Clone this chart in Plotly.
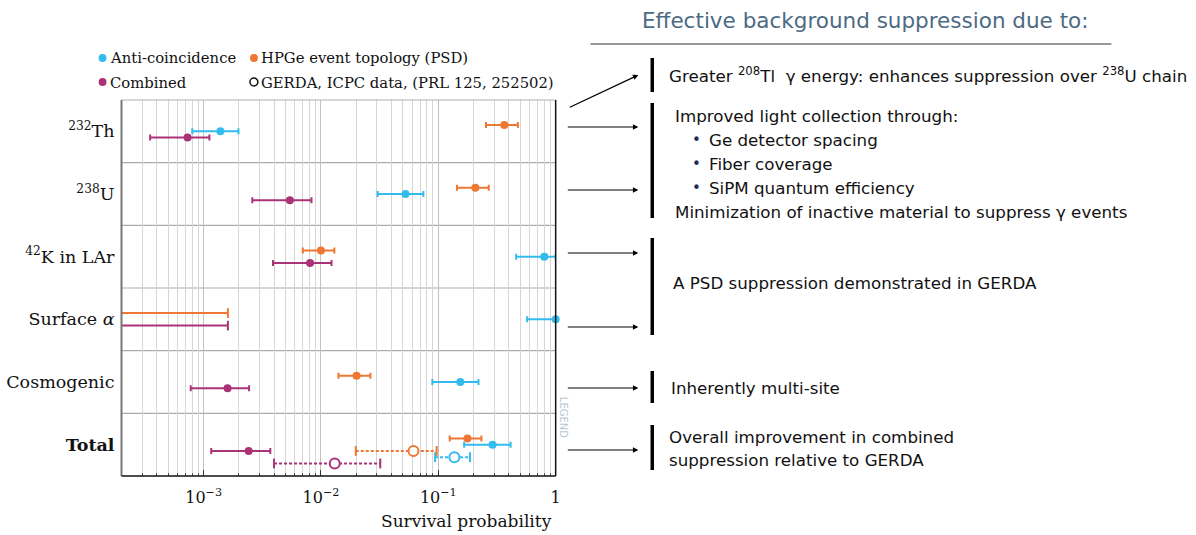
import plotly.graph_objects as go

W, H = 1196, 535


def px(x):
    return x / W


def py(y):
    return 1 - y / H


# ---------------- data ----------------
categories = ["<sup>232</sup>Th", "<sup>238</sup>U", "<sup>42</sup>K in LAr",
              "Surface <i>α</i>", "Cosmogenic", "<b>Total</b>"]
row_pos = [0, 1, 2, 3, 4, 5]

anti_val = [1.39e-3, 0.0525, 0.80, 1.0, 0.154, 0.290]
anti_lo = [8.0e-4, 0.0304, 0.461, 0.571, 0.0889, 0.166]
anti_hi = [1.98e-3, 0.0746, 1.0, 1.0, 0.220, 0.413]

psd_val = [0.365, 0.207, 0.0100, None, 0.0201, 0.177]
psd_lo = [0.255, 0.144, 7.0e-3, None, 0.0141, 0.125]
psd_hi = [0.476, 0.269, 0.0130, 1.61e-3, 0.0264, 0.233]

comb_val = [7.3e-4, 5.43e-3, 8.07e-3, None, 1.60e-3, 2.42e-3]
comb_lo = [3.5e-4, 2.6e-3, 3.9e-3, None, 7.76e-4, 1.16e-3]
comb_hi = [1.12e-3, 8.3e-3, 0.0123, 1.61e-3, 2.44e-3, 3.70e-3]

# GERDA ICPC (Total row only): anti-coincidence, PSD, combined
gerda_val = [0.137, 0.0614, 0.0131]
gerda_lo = [0.0938, 0.0198, 3.98e-3]
gerda_hi = [0.186, 0.0968, 0.032]

series_names = ["Anti-coincidence", "HPGe event topology (PSD)", "Combined"]
tick_vals = [1e-3, 1e-2, 1e-1, 1]
tick_text = ["10<sup>−3</sup>", "10<sup>−2</sup>", "10<sup>−1</sup>", "1"]

# ---------------- styles ----------------
C_ANTI = "#33BBEE"
C_PSD = "#EE7733"
C_COMB = "#AA3377"
SERIF = "DejaVu Serif"
SANS = "DejaVu Sans"
RFS = 16.7  # right-panel font size

fig = go.Figure()


def add_measured(vals, lo, hi, offset, color, name):
    xs, ys, ep, em = [], [], [], []
    for p, v, l, h in zip(row_pos, vals, lo, hi):
        if v is None:
            continue
        xs.append(v)
        ys.append(p + offset)
        ep.append(h - v)
        em.append(v - l)
    fig.add_trace(go.Scatter(
        x=xs, y=ys, mode="markers", name=name, showlegend=False,
        marker=dict(color=color, size=8),
        error_x=dict(type="data", array=ep, arrayminus=em, color=color,
                     thickness=2, width=3),
        cliponaxis=False))
    # upper limits (no central value)
    for p, v, h in zip(row_pos, vals, hi):
        if v is None and h is not None:
            fig.add_trace(go.Scatter(
                x=[1e-6, h], y=[p + offset, p + offset], mode="lines",
                line=dict(color=color, width=2), showlegend=False))
            fig.add_trace(go.Scatter(
                x=[h], y=[p + offset], mode="markers", showlegend=False,
                marker=dict(symbol="line-ns", size=7,
                            line=dict(color=color, width=2))))


add_measured(psd_val, psd_lo, psd_hi, -0.1, C_PSD, series_names[1])
add_measured(anti_val, anti_lo, anti_hi, 0.0, C_ANTI, series_names[0])
add_measured(comb_val, comb_lo, comb_hi, 0.1, C_COMB, series_names[2])

gerda_colors = [C_ANTI, C_PSD, C_COMB]
gerda_offsets = [0.2, 0.1, 0.3]
total_pos = row_pos[5]
for v, l, h, c, o in zip(gerda_val, gerda_lo, gerda_hi, gerda_colors, gerda_offsets):
    y = total_pos + o
    fig.add_trace(go.Scatter(x=[l, h], y=[y, y], mode="lines", showlegend=False,
                             line=dict(color=c, width=2, dash="3px,2px")))
    fig.add_trace(go.Scatter(x=[l, h], y=[y, y], mode="markers", showlegend=False,
                             marker=dict(symbol="line-ns", size=7,
                                         line=dict(color=c, width=2))))
    fig.add_trace(go.Scatter(x=[v], y=[y], mode="markers", showlegend=False,
                             marker=dict(symbol="circle", size=10, color="white",
                                         line=dict(color=c, width=2))))

# ---------------- axes ----------------
minor_vals = [k * 10.0 ** e for e in range(-4, 0) for k in range(2, 10)]
fig.update_xaxes(
    type="log", range=[-3.70, 0.0], domain=[px(122), px(558)],
    tickmode="array", tickvals=tick_vals, ticktext=tick_text,
    ticks="inside", ticklen=6, tickcolor="#333", tickwidth=1,
    ticklabelstandoff=10,
    showgrid=True, gridcolor="#c2c2c2", gridwidth=1.2,
    minor=dict(tickmode="array", tickvals=minor_vals, ticks="inside",
               ticklen=3, tickcolor="#555", showgrid=True,
               gridcolor="#d6d6d6", gridwidth=1.2),
    tickfont=dict(family=SERIF, size=16, color="#111"),
    showline=False, zeroline=False)
fig.update_yaxes(
    range=[5.5, -0.5], domain=[py(476), py(100)],
    tickmode="array", tickvals=row_pos, ticktext=categories,
    ticks="", showgrid=False, zeroline=False, showline=False,
    ticklabelstandoff=6,
    tickfont=dict(family=SERIF, size=17.5, color="#111"))

shapes = []
# row separators
for b in [0.5, 1.5, 2.5, 3.5, 4.5]:
    shapes.append(dict(type="line", xref="x domain", yref="y", x0=0, x1=1,
                       y0=b, y1=b, line=dict(color="#ababab", width=1.2),
                       layer="below"))
# frame
shapes += [
    dict(type="line", xref="x domain", yref="y domain", x0=0, x1=1, y0=1, y1=1,
         line=dict(color="#b0b0b0", width=1.2)),
    dict(type="line", xref="x domain", yref="y domain", x0=0, x1=0, y0=0, y1=1,
         line=dict(color="#777777", width=2)),
    dict(type="line", xref="x domain", yref="y domain", x0=1, x1=1, y0=0, y1=1,
         line=dict(color="#111111", width=1.5)),
    dict(type="line", xref="x domain", yref="y domain", x0=0, x1=1, y0=0, y1=0,
         line=dict(color="#111111", width=1.5)),
]


# legend markers (manual)
def circ(cx, cy, r, fill, line):
    return dict(type="circle", xref="paper", yref="paper",
                x0=px(cx - r), x1=px(cx + r), y0=py(cy + r), y1=py(cy - r),
                fillcolor=fill, line=dict(color=line, width=1.5))


shapes += [
    circ(103, 58, 3.2, C_ANTI, C_ANTI),
    circ(255, 58, 3.2, C_PSD, C_PSD),
    circ(103, 82, 3.2, C_COMB, C_COMB),
    circ(255, 82, 4.0, "white", "#111"),
]

# right side: separator under title and vertical bars
shapes.append(dict(type="line", xref="paper", yref="paper", x0=px(593), x1=px(1116),
                   y0=py(44), y1=py(44), line=dict(color="#333", width=1.2)))
for y0, y1 in [(58, 92), (103, 218), (238, 335), (371, 403), (425, 470)]:
    shapes.append(dict(type="line", xref="paper", yref="paper", x0=px(655), x1=px(655),
                       y0=py(y0), y1=py(y1), line=dict(color="#000", width=3.5)))

annotations = []


def txt(x, y, s, size, family, color="#111", xanchor="left"):
    annotations.append(dict(x=px(x), y=py(y), xref="paper", yref="paper", text=s,
                            showarrow=False, xanchor=xanchor, yanchor="middle",
                            font=dict(family=family, size=size, color=color)))


# legend texts
txt(108, 58, series_names[0], 14.8, SERIF)
txt(260, 58, series_names[1], 14.8, SERIF)
txt(108, 82, series_names[2], 14.8, SERIF)
txt(260, 82, "GERDA, ICPC data, (PRL 125, 252502)", 14.8, SERIF)

# x-axis title
txt(556, 521, "Survival probability", 17, SERIF, xanchor="right")

# LEGEND logo watermark
annotations.append(dict(x=px(566), y=py(440), xref="paper", yref="paper", text="LEGEND",
                        showarrow=False, textangle=90,
                        font=dict(family=SANS, size=10, color="#b9c6d0")))

# right panel text
txt(643, 20, "Effective background suppression due to:", 21.5, SANS, color="#4d6a83")
txt(670, 75, "Greater <sup>208</sup>Tl  γ energy: enhances suppression over <sup>238</sup>U chain",
    RFS, SANS)
txt(676, 116, "Improved light collection through:", RFS, SANS)
for yy, s in [(140, "Ge detector spacing"), (164, "Fiber coverage"),
              (188, "SiPM quantum efficiency")]:
    txt(693, yy, "•", 15, SANS, color="#1f2a5a")
    txt(710, yy, s, RFS, SANS)
txt(676, 212, "Minimization of inactive material to suppress γ events", RFS, SANS)
txt(674, 283, "A PSD suppression demonstrated in GERDA", RFS, SANS)
txt(672, 388, "Inherently multi-site", RFS, SANS)
txt(670, 437, "Overall improvement in combined", RFS, SANS)
txt(670, 460, "suppression relative to GERDA", RFS, SANS)

# arrows
for (x0, y0, x1, y1) in [(571, 108, 641, 75), (569, 127, 641, 127), (569, 190, 641, 190),
                         (569, 253, 641, 253), (569, 327, 641, 327), (569, 388, 641, 388),
                         (569, 450, 641, 450)]:
    annotations.append(dict(x=px(x1), y=py(y1), xref="paper", yref="paper",
                            ax=x0 - x1, ay=y0 - y1, axref="pixel", ayref="pixel",
                            text="", showarrow=True, arrowhead=2, arrowsize=0.9,
                            arrowwidth=1.2, arrowcolor="#000"))

fig.update_layout(
    width=W, height=H, margin=dict(l=0, r=0, t=0, b=0),
    paper_bgcolor="white", plot_bgcolor="white",
    showlegend=False, shapes=shapes, annotations=annotations,
    font=dict(family=SERIF, color="#111"))

fig.write_html("out.html", config={"displayModeBar": False},
               post_script="document.body.style.margin='0';document.body.style.overflow='hidden';")
